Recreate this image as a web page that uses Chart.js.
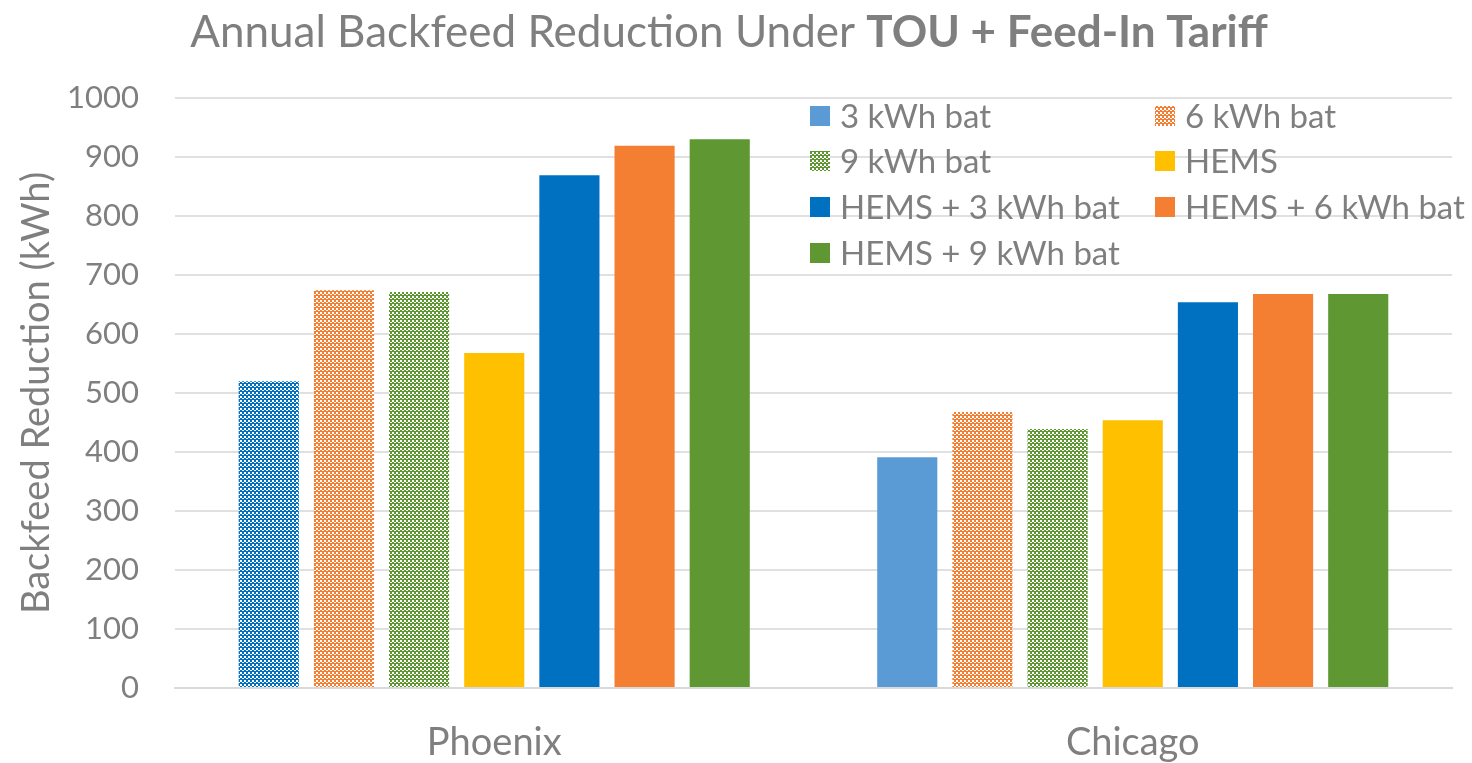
<!DOCTYPE html>
<html>
<head>
<meta charset="utf-8">
<script src="https://cdn.jsdelivr.net/npm/chart.js@4.4.1/dist/chart.umd.min.js"></script>
<style>
    html, body { margin: 0; padding: 0; background: #fff; }
    #wrap { width: 1472px; height: 763px; }
</style>
</head>
<body>
<div id="wrap"><canvas id="backfeedChart" width="1472" height="763"></canvas></div>
<script>
// ============================================
// Annual backfeed reduction - TOU + FiT
// ============================================

const cities = ['Phoenix', 'Chicago'];
const seriesNames = ['3 kWh bat', '6 kWh bat', '9 kWh bat', 'HEMS',
    'HEMS + 3 kWh bat', 'HEMS + 6 kWh bat', 'HEMS + 9 kWh bat'];

const bat3 = [520, 391];
const bat6 = [674, 468];
const bat9 = [671, 439];
const hems = [568, 454];
const hemsBat3 = [869, 654];
const hemsBat6 = [919, 668];
const hemsBat9 = [930, 668];

const yTicks = [0, 100, 200, 300, 400, 500, 600, 700, 800, 900, 1000];

const TEXT = '#7f7f7f';
const FONT = 'Lato, "Open Sans", sans-serif';

// small checker fill like the excel pattern
function checker(color) {
    const c = document.createElement('canvas');
    c.width = 4; c.height = 4;
    const g = c.getContext('2d');
    g.fillStyle = color;
    g.fillRect(0, 0, 4, 4);
    g.fillStyle = '#ffffff';
    g.fillRect(0, 0, 2, 2);
    g.fillRect(2, 2, 2, 1);
    return g.createPattern(c, 'repeat');
}

const BLUE_LT = '#5b9bd5';
const BLUE = '#0070c0';
const ORANGE = '#f47e32';
const GREEN = '#5f9832';
const GOLD = '#ffc000';

const fills = [
    [checker(BLUE), BLUE_LT],
    checker(ORANGE),
    checker(GREEN),
    GOLD,
    BLUE,
    ORANGE,
    GREEN
];
const legendFills = [BLUE_LT, checker(ORANGE), checker(GREEN), GOLD, BLUE, ORANGE, GREEN];
const seriesData = [bat3, bat6, bat9, hems, hemsBat3, hemsBat6, hemsBat9];

// title with a bold tail
const titlePlugin = {
    id: 'mixedTitle',
    afterDraw(chart) {
        const ctx = chart.ctx;
        const partA = 'Annual Backfeed Reduction Under ';
        const partB = 'TOU + Feed-In Tariff';
        ctx.save();
        ctx.fillStyle = TEXT;
        ctx.textBaseline = 'alphabetic';
        ctx.font = '44px ' + FONT;
        const wA = ctx.measureText(partA).width;
        ctx.font = 'bold 44px ' + FONT;
        const wB = ctx.measureText(partB).width;
        const x0 = 729 - (wA + wB) / 2;
        ctx.font = '44px ' + FONT;
        ctx.fillText(partA, x0, 47);
        ctx.font = 'bold 44px ' + FONT;
        ctx.fillText(partB, x0 + wA, 47);
        ctx.restore();
    }
};

// two column legend inside the plot
const legendPlugin = {
    id: 'gridLegend',
    afterDraw(chart) {
        const ctx = chart.ctx;
        const cols = [810, 1155];
        const rowY = [116, 161, 207, 253];
        ctx.save();
        ctx.font = '33px ' + FONT;
        ctx.textBaseline = 'middle';
        chart.data.datasets.forEach((ds, i) => {
            const x = cols[i % 2];
            const y = rowY[Math.floor(i / 2)];
            ctx.fillStyle = legendFills[i];
            ctx.fillRect(x, y - 10, 20, 20);
            ctx.fillStyle = TEXT;
            ctx.fillText(ds.label, x + 30, y + 1);
        });
        ctx.restore();
    }
};

const ctx = document.getElementById('backfeedChart');

new Chart(ctx, {
    type: 'bar',
    data: {
        labels: cities,
        datasets: seriesNames.map((name, i) => ({
            label: name,
            data: seriesData[i],
            backgroundColor: fills[i],
            borderWidth: 0
        }))
    },
    options: {
        responsive: false,
        animation: false,
        devicePixelRatio: 1,
        categoryPercentage: 0.824,
        barPercentage: 0.8,
        layout: { padding: { top: 98, right: 20, left: 0, bottom: 0 } },
        plugins: {
            legend: { display: false },
            title: { display: false },
            tooltip: { enabled: false }
        },
        scales: {
            x: {
                grid: { display: false },
                border: { display: true, color: '#d9d9d9', width: 2 },
                ticks: { color: TEXT, font: { family: FONT, size: 38 }, padding: 24 },
                afterFit: s => { s.height = 75; }
            },
            y: {
                min: 0,
                max: 1000,
                afterBuildTicks: s => { s.ticks = yTicks.map(v => ({ value: v })); },
                grid: { color: '#e0e0e0', lineWidth: 2, drawTicks: false },
                border: { display: false },
                ticks: {
                    color: TEXT,
                    font: { family: FONT, size: 31 },
                    padding: 36,
                    callback: v => String(v)
                },
                title: {
                    display: true,
                    text: 'Backfeed Reduction (kWh)',
                    color: TEXT,
                    font: { family: FONT, size: 38 },
                    padding: { top: 14, bottom: 0 }
                },
                afterFit: s => { s.width = 175; }
            }
        }
    },
    plugins: [titlePlugin, legendPlugin]
});
</script>
</body>
</html>
